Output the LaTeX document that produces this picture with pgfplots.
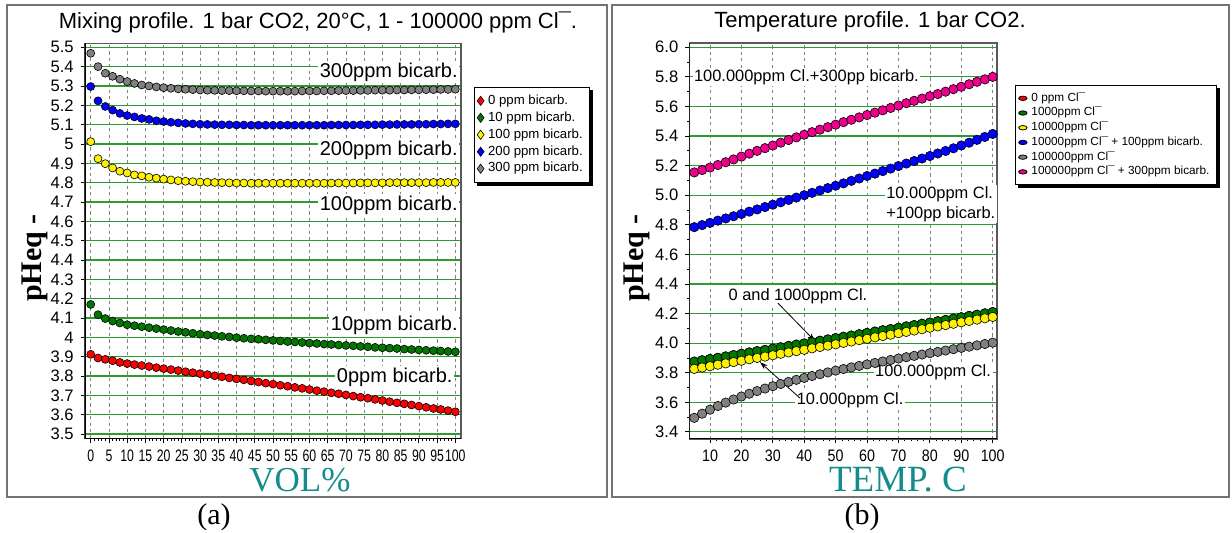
\documentclass[border=0pt]{standalone}
\usepackage{fontspec}
\setmainfont{Liberation Sans}
\newfontfamily\seriffont{Liberation Serif}
\usepackage{pgfplots}
\pgfplotsset{compat=1.18}
\usepackage{pgfplotstable}
\usetikzlibrary{arrows.meta}

\definecolor{gridgreen}{RGB}{45,155,45}
\definecolor{labteal}{RGB}{20,140,140}
\definecolor{sgrey}{RGB}{128,128,128}
\definecolor{sgreen}{RGB}{0,120,0}

% mixing profile, pH vs vol%
\pgfplotstableread{
x   r     g     y     b     k
0   3.912 4.170 5.012 5.297 5.469
2   3.893 4.117 4.924 5.223 5.400
4   3.886 4.097 4.898 5.194 5.366
6   3.879 4.084 4.876 5.175 5.350
8   3.870 4.074 4.859 5.158 5.335
10  3.864 4.065 4.850 5.147 5.323
12  3.859 4.060 4.840 5.140 5.313
14  3.854 4.055 4.835 5.132 5.305
16  3.849 4.050 4.828 5.127 5.300
18  3.843 4.045 4.823 5.120 5.295
20  3.838 4.040 4.818 5.116 5.291
22  3.833 4.035 4.814 5.112 5.288
24  3.828 4.030 4.810 5.109 5.285
26  3.822 4.026 4.807 5.106 5.283
28  3.817 4.021 4.805 5.104 5.281
30  3.812 4.016 4.803 5.102 5.279
32  3.807 4.012 4.802 5.101 5.278
34  3.801 4.009 4.801 5.100 5.277
36  3.796 4.005 4.800 5.099 5.276
38  3.790 4.002 4.799 5.099 5.276
40  3.785 3.998 4.798 5.098 5.275
42  3.780 3.995 4.798 5.098 5.275
44  3.774 3.992 4.797 5.097 5.274
46  3.769 3.990 4.797 5.097 5.274
48  3.763 3.987 4.797 5.097 5.273
50  3.758 3.984 4.797 5.097 5.273
52  3.752 3.981 4.797 5.097 5.273
54  3.747 3.978 4.797 5.097 5.273
56  3.741 3.976 4.797 5.097 5.273
58  3.736 3.973 4.797 5.097 5.274
60  3.730 3.970 4.797 5.097 5.274
62  3.724 3.968 4.797 5.097 5.274
64  3.719 3.965 4.797 5.097 5.275
66  3.713 3.963 4.798 5.098 5.275
68  3.708 3.960 4.798 5.098 5.276
70  3.702 3.958 4.798 5.098 5.276
72  3.696 3.956 4.798 5.098 5.276
74  3.690 3.953 4.799 5.099 5.277
76  3.685 3.951 4.799 5.099 5.277
78  3.679 3.948 4.799 5.099 5.278
80  3.673 3.946 4.799 5.100 5.278
82  3.667 3.944 4.800 5.100 5.278
84  3.661 3.942 4.800 5.101 5.279
86  3.656 3.939 4.800 5.101 5.279
88  3.650 3.937 4.800 5.101 5.280
90  3.644 3.935 4.800 5.102 5.280
92  3.638 3.933 4.800 5.102 5.281
94  3.632 3.931 4.801 5.103 5.281
96  3.627 3.929 4.801 5.103 5.282
98  3.621 3.927 4.801 5.104 5.282
100 3.615 3.925 4.801 5.104 5.283
}\mixdata

% temperature profile, pH vs T
\pgfplotstableread{
x    r     g     y     b     k     m
5    3.875 3.875 3.826 4.784 3.495 5.154
7.5  3.884 3.884 3.835 4.798 3.523 5.170
10   3.893 3.893 3.844 4.813 3.550 5.187
12.5 3.901 3.901 3.854 4.828 3.575 5.204
15   3.910 3.910 3.863 4.843 3.598 5.223
17.5 3.919 3.919 3.872 4.858 3.619 5.242
20   3.928 3.928 3.881 4.873 3.639 5.261
22.5 3.937 3.937 3.891 4.889 3.658 5.281
25   3.946 3.946 3.900 4.904 3.676 5.300
27.5 3.954 3.954 3.909 4.920 3.693 5.318
30   3.963 3.963 3.918 4.936 3.709 5.336
32.5 3.972 3.972 3.928 4.952 3.724 5.355
35   3.981 3.981 3.937 4.968 3.738 5.373
37.5 3.990 3.990 3.946 4.984 3.752 5.391
40   3.998 3.998 3.955 5.000 3.765 5.409
42.5 4.007 4.007 3.965 5.016 3.778 5.426
45   4.016 4.016 3.974 5.032 3.790 5.443
47.5 4.025 4.025 3.983 5.048 3.802 5.460
50   4.034 4.034 3.992 5.064 3.814 5.477
52.5 4.043 4.043 4.002 5.080 3.825 5.494
55   4.051 4.051 4.011 5.097 3.836 5.510
57.5 4.060 4.060 4.020 5.113 3.846 5.526
60   4.069 4.069 4.029 5.130 3.856 5.542
62.5 4.078 4.078 4.039 5.146 3.866 5.558
65   4.087 4.087 4.048 5.163 3.876 5.574
67.5 4.095 4.095 4.057 5.180 3.886 5.590
70   4.104 4.104 4.067 5.197 3.896 5.606
72.5 4.113 4.113 4.076 5.214 3.905 5.622
75   4.122 4.122 4.085 5.231 3.914 5.638
77.5 4.131 4.131 4.094 5.248 3.923 5.653
80   4.139 4.139 4.104 5.265 3.932 5.669
82.5 4.148 4.148 4.113 5.282 3.941 5.684
85   4.157 4.157 4.122 5.299 3.950 5.700
87.5 4.166 4.166 4.131 5.317 3.959 5.717
90   4.175 4.175 4.141 5.336 3.968 5.733
92.5 4.184 4.184 4.150 5.355 3.976 5.750
95   4.192 4.192 4.159 5.374 3.985 5.767
97.5 4.201 4.201 4.168 5.394 3.994 5.783
100  4.210 4.210 4.177 5.414 4.003 5.800
}\tempdata

\pgfplotsset{
  phaxis/.style={
    scale only axis,
    anchor=south west,
    tick pos=left,
    tick align=outside,
    major tick length=2pt,
    minor tick length=1.2pt,
    every tick/.style={black, line width=0.4pt},
    xmajorgrids, ymajorgrids,
    x grid style={sgrey, dash pattern=on 1.6pt off 1.6pt, line width=0.35pt},
    y grid style={gridgreen, line width=0.6pt},
    axis line style={draw=black!65, line width=0.6pt},
    tick label style={font=\fontsize{8.3}{9}\selectfont},
    /pgf/number format/assume math mode=true,
    legend cell align=left,
  },
  pt/.style={only marks, mark=*, draw=black, line width=0.3pt, fill=#1},
  oval/.style={legend image code/.code={\draw[fill=#1, draw=black, line width=0.4pt] (0.2cm,0cm) ellipse [x radius=2.1pt, y radius=1.1pt];}},
}

\begin{document}
\begin{tikzpicture}
\useasboundingbox (0,0) rectangle (616pt,266.5pt);

% ---------------- (a) mixing profile ----------------
\begin{axis}[phaxis,
    at={(42.35pt,47.15pt)}, width=188.15pt, height=197.7pt,
    xmin=-1.65, xmax=101.56, ymin=3.4757, ymax=5.5207,
    xtick={0,5,...,100}, minor x tick num=4,
    ytick={3.5,3.6,3.7,3.8,3.9,4.0,4.1,4.2,4.3,4.4,4.5,4.6,4.7,4.8,4.9,5.0,5.1,5.2,5.3,5.4,5.5},
    xticklabel={\scalebox{0.74}[1]{\pgfmathprintnumber{\tick}}},
    every axis plot/.append style={mark size=2pt},
    legend image code/.code={\draw[#1, mark=diamond*, mark size=2.3pt] plot coordinates {(0.12cm,0cm)};},
    legend style={name=legA, at={(1.034,0.889)}, anchor=north west,
      font=\fontsize{6.6}{7.5}\selectfont, draw=black, line width=0.4pt,
      fill=white, inner sep=1.5pt, row sep=-1.8pt},
]
\addplot[pt=red]    table[x=x, y=r] {\mixdata};
\addlegendentry{0 ppm bicarb.}
\addplot[pt=sgreen] table[x=x, y=g] {\mixdata};
\addlegendentry{10 ppm bicarb.}
\addplot[pt=yellow] table[x=x, y=y] {\mixdata};
\addlegendentry{100 ppm bicarb.}
\addplot[pt=blue]   table[x=x, y=b] {\mixdata};
\addlegendentry{200 ppm bicarb.}
\addplot[pt=sgrey]  table[x=x, y=k] {\mixdata};
\addlegendentry{300 ppm bicarb.}

\begin{scope}[every node/.style={fill=white, inner sep=0.8pt, anchor=east, font=\fontsize{10}{12}\selectfont}]
\node at (axis cs:101.2,5.372) {300ppm bicarb.};
\node at (axis cs:101.2,4.969) {200ppm bicarb.};
\node at (axis cs:101.2,4.684) {100ppm bicarb.};
\node at (axis cs:101.2,4.063) {10ppm bicarb.};
\node at (axis cs:99.8,3.795)  {0ppm bicarb.};
\end{scope}
\draw[black, line width=0.9pt] (rel axis cs:0,1) -- (rel axis cs:0,0) -- (rel axis cs:1,0);
\end{axis}

% ---------------- (b) temperature profile ----------------
\begin{axis}[phaxis,
    at={(344.65pt,47pt)}, width=153.85pt, height=198pt,
    xmin=3.41, xmax=101.37, ymin=3.352, ymax=6.029,
    xtick={10,20,...,100}, minor x tick num=4,
    ytick={3.4,3.6,3.8,4.0,4.2,4.4,4.6,4.8,5.0,5.2,5.4,5.6,5.8,6.0},
    minor y tick num=1,
    xticklabel={\scalebox{0.86}[1]{\pgfmathprintnumber{\tick}}},
    yticklabel style={/pgf/number format/.cd, fixed, fixed zerofill, precision=1},
    every axis plot/.append style={mark size=2.35pt},
    legend style={name=legB, at={(1.058,0.894)}, anchor=north west,
      font=\fontsize{5.9}{6.6}\selectfont, draw=black, line width=0.4pt,
      fill=white, inner sep=1.5pt, row sep=-2.6pt},
]
\addplot[pt=red, oval=red]             table[x=x, y=r] {\tempdata};
\addlegendentry{0 ppm  Cl¯}
\addplot[pt=sgreen, oval=sgreen]       table[x=x, y=g] {\tempdata};
\addlegendentry{1000ppm  Cl¯}
\addplot[pt=yellow, oval=yellow]       table[x=x, y=y] {\tempdata};
\addlegendentry{10000ppm  Cl¯}
\addplot[pt=blue, oval=blue]           table[x=x, y=b] {\tempdata};
\addlegendentry{10000ppm  Cl¯ + 100ppm bicarb.}
\addplot[pt=sgrey, oval=sgrey]         table[x=x, y=k] {\tempdata};
\addlegendentry{100000ppm  Cl¯}
\addplot[pt=magenta, oval=magenta]     table[x=x, y=m] {\tempdata};
\addlegendentry{100000ppm  Cl¯ + 300ppm bicarb.}

\begin{scope}[every node/.style={fill=white, inner sep=0.8pt, font=\fontsize{8.2}{10}\selectfont}]
\node[anchor=west] at (axis cs:4.3,5.80) {100.000ppm Cl.+300pp bicarb.};
\node[anchor=west, align=left] at (axis cs:65.5,4.94) {10.000ppm Cl.\\+100pp bicarb.};
\node at (axis cs:38.0,4.318) {0 and 1000ppm Cl.};
\node at (axis cs:81.0,3.805) {100.000ppm Cl.};
\node at (axis cs:54.6,3.616) {10.000ppm Cl.};
\end{scope}
\draw[-{Stealth[length=4pt,width=2.6pt]}, line width=0.4pt] (axis cs:31.6,4.271) -- (axis cs:43.4,4.014);
\draw[-{Stealth[length=4pt,width=2.6pt]}, line width=0.4pt] (axis cs:38.6,3.629) -- (axis cs:25.9,3.872);
\draw[black, line width=0.9pt] (rel axis cs:0,1) -- (rel axis cs:0,0) -- (rel axis cs:1,0);
\end{axis}

% legend shadows (right and bottom strips)
\foreach \L in {legA,legB} {
  \fill[black] ([yshift=-1.6pt]\L.north east) rectangle ([xshift=1.6pt,yshift=-1.6pt]\L.south east);
  \fill[black] ([xshift=1.6pt]\L.south west) rectangle ([xshift=1.6pt,yshift=-1.6pt]\L.south east);
}

% ---------------- frames and free texts (pixel coordinates) ----------------
\begin{scope}[x=0.5pt, y=-0.5pt, shift={(0pt,266.5pt)}]
\draw[black!55, line width=0.7pt] (7,5) rectangle (607,497);
\draw[black!55, line width=0.7pt] (612,5) rectangle (1229,497);
\node[font=\fontsize{11}{13}\selectfont] at (318,22) {Mixing profile. 1 bar CO2, 20°C, 1 - 100000 ppm Cl¯.};
\node[font=\fontsize{11}{13}\selectfont] at (870,22) {Temperature profile. 1 bar CO2.};
\node[rotate=90, font=\seriffont\bfseries\fontsize{15}{18}\selectfont] at (35,258) {pHeq -};
\node[rotate=90, font=\seriffont\bfseries\fontsize{15}{18}\selectfont] at (637,258) {pHeq -};
\node[text=labteal, font=\seriffont\fontsize{17.5}{20}\selectfont] at (300,480) {VOL\%};
\node[text=labteal, font=\seriffont\fontsize{18.5}{21}\selectfont] at (898,480) {TEMP. C};
\node[font=\seriffont\fontsize{15}{18}\selectfont] at (214,517) {(a)};
\node[font=\seriffont\fontsize{15}{18}\selectfont] at (862,517) {(b)};
\end{scope}
\end{tikzpicture}
\end{document}
